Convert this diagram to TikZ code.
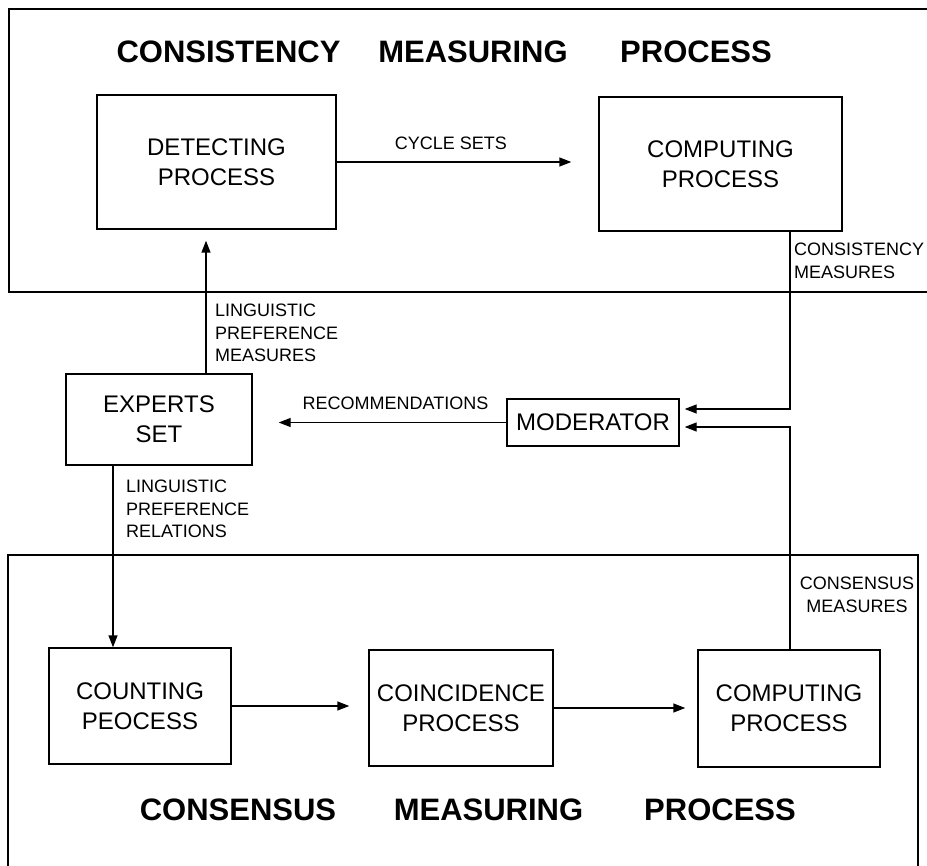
\documentclass[tikz,border=0pt]{standalone}
\usepackage{fontspec}
\setmainfont{Liberation Sans}
\usetikzlibrary{arrows.meta}

\tikzset{
  procbox/.style={draw, line width=1.4pt, inner sep=0pt, align=center,
    font=\fontsize{24}{30}\selectfont},
  lbl/.style={inner sep=0pt, font=\fontsize{18}{22.5}\selectfont},
  heading/.style={inner sep=0pt, anchor=base, font=\fontsize{31}{36}\selectfont\bfseries},
  flow/.style={line width=1.4pt, -{Triangle[length=12pt,width=9pt]}},
  frame/.style={line width=1.4pt},
}

\begin{document}
\begin{tikzpicture}[x=1pt, y=-1pt]
\useasboundingbox (0,0) rectangle (927,866);
% Cadres
\draw[frame] (927,9) -- (9,9) -- (9,292) -- (927,292);
\draw[frame] (8,866) -- (8,555) -- (918,555) -- (918,866);
% Titres
\foreach \x/\word in {228.5/CONSISTENCY,473/MEASURING,696/PROCESS} {
  \node[heading] (top-\word) at (\x,63) {\word};
}
\foreach \x/\word in {238/CONSENSUS,488.5/MEASURING,720/PROCESS} {
  \node[heading] (bot-\word) at (\x,820) {\word};
}
% Boites
\node[procbox, minimum width=239pt, minimum height=134pt] (detect) at (216.5,162) {DETECTING\\PROCESS};
\node[procbox, minimum width=243pt, minimum height=134pt] (comptop) at (720.5,164) {COMPUTING\\PROCESS};
\node[procbox, minimum width=186pt, minimum height=91pt] (experts) at (159,419.5) {EXPERTS\\SET};
\node[procbox, minimum width=172pt, minimum height=47pt] (moder) at (593,422.5) {MODERATOR};
\node[procbox, minimum width=182pt, minimum height=116pt] (count) at (140,706) {COUNTING\\PEOCESS};
\node[procbox, minimum width=184pt, minimum height=116pt] (coinc) at (461,708) {COINCIDENCE\\PROCESS};
\node[procbox, minimum width=182pt, minimum height=117pt] (compbot) at (789,708.5) {COMPUTING\\PROCESS};
% Points de passage
\coordinate (upline) at (206,0);
\coordinate (downline) at (113,0);
\coordinate (tapcons) at (790,409);
\coordinate (tapsens) at (790,427);
% Fleches
\draw[flow, shorten >=27pt] (detect.east) -- (comptop.west |- detect.east);
\draw[flow, shorten >=5pt] (comptop.south -| tapcons) -- (tapcons) -- (moder.east |- tapcons);
\draw[flow, shorten >=5pt] (compbot.north -| tapsens) -- (tapsens) -- (moder.east |- tapsens);
\draw[flow, shorten >=26pt] (moder.west) -- (experts.east |- moder.west);
\draw[flow, shorten >=11pt] (experts.north -| upline) -- (detect.south -| upline);
\draw[flow] (experts.south -| downline) -- (count.north -| downline);
\draw[flow, shorten >=19pt] (count.east) -- (coinc.west |- count.east);
\draw[flow, shorten >=12pt] (coinc.east) -- (compbot.west |- coinc.east);
% Etiquettes
\node[lbl, anchor=north] (cyclbl) at (451,137) {CYCLE SETS};
\node[lbl, anchor=north west, align=left] (conslbl) at (794,243) {CONSISTENCY\\MEASURES};
\node[lbl, anchor=north west, align=left] (measlbl) at (215,304) {LINGUISTIC\\PREFERENCE\\MEASURES};
\node[lbl, anchor=north] (reclbl) at (395.5,397) {RECOMMENDATIONS};
\node[lbl, anchor=north west, align=left] (rellbl) at (126,480) {LINGUISTIC\\PREFERENCE\\RELATIONS};
\node[lbl, anchor=north, align=center] (senslbl) at (857,577) {CONSENSUS\\MEASURES};
\end{tikzpicture}
\end{document}
